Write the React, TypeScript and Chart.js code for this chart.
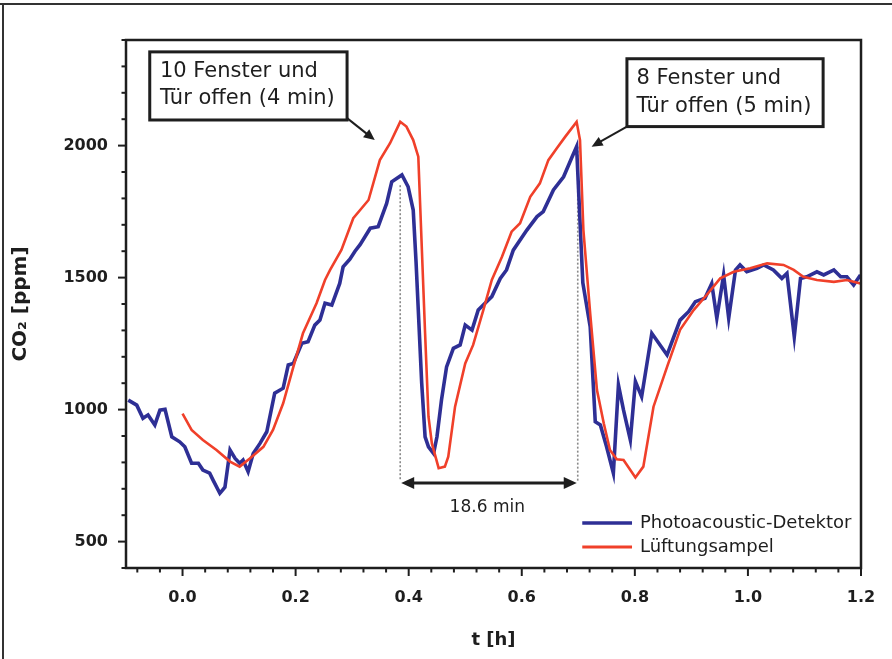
import React, { useEffect, useRef } from 'react';
import { Chart, registerables } from 'chart.js';

Chart.register(...registerables);

// ---- data ----
const seriesNames = ['Photoacoustic-Detektor', 'Lüftungsampel'];

const detektorT = [
  -0.096, -0.081, -0.070, -0.061, -0.049, -0.040, -0.031, -0.019, -0.005, 0.004,
  0.016, 0.028, 0.036, 0.048, 0.054, 0.066, 0.075, 0.084, 0.093, 0.101,
  0.107, 0.116, 0.125, 0.137, 0.149, 0.163, 0.178, 0.187, 0.196, 0.211,
  0.222, 0.234, 0.243, 0.252, 0.264, 0.278, 0.284, 0.296, 0.305, 0.314,
  0.332, 0.346, 0.361, 0.370, 0.388, 0.399, 0.408, 0.413, 0.418, 0.423,
  0.429, 0.435, 0.444, 0.450, 0.458, 0.467, 0.479, 0.491, 0.500, 0.512,
  0.523, 0.535, 0.547, 0.562, 0.573, 0.585, 0.609, 0.627, 0.638, 0.656,
  0.674, 0.688, 0.697, 0.702, 0.708, 0.721, 0.730, 0.739, 0.750, 0.762,
  0.771, 0.780, 0.792, 0.801, 0.812, 0.830, 0.857, 0.880, 0.895, 0.907,
  0.924, 0.936, 0.945, 0.957, 0.966, 0.978, 0.986, 0.998, 1.016, 1.028,
  1.045, 1.060, 1.069, 1.082, 1.093, 1.104, 1.122, 1.134, 1.152, 1.164,
  1.175, 1.187, 1.199,
];
const detektorPpm = [
  1036, 1017, 967, 980, 942, 998, 1001, 897, 878, 859,
  797, 797, 771, 759, 733, 683, 706, 847, 815, 797,
  809, 765, 834, 872, 916, 1062, 1081, 1169, 1175, 1251,
  1257, 1320, 1339, 1403, 1396, 1478, 1541, 1570, 1600, 1625,
  1687, 1693, 1781, 1863, 1889, 1844, 1756, 1560, 1330, 1100,
  897, 859, 834, 897, 1036, 1162, 1232, 1245, 1320, 1301,
  1377, 1403, 1428, 1497, 1529, 1604, 1680, 1731, 1750, 1832,
  1882, 1952, 1996, 1760, 1480, 1314, 954, 942, 859, 759,
  1093, 998, 885, 1106, 1049, 1289, 1207, 1339, 1371, 1409,
  1422, 1478, 1346, 1510, 1346, 1529, 1548, 1522, 1535, 1548,
  1529, 1497, 1516, 1276, 1497, 1503, 1522, 1510, 1529, 1503,
  1503, 1472, 1510,
];

const ampelT = [
  0.000, 0.016, 0.036, 0.060, 0.084, 0.101, 0.119, 0.143, 0.160, 0.178,
  0.196, 0.213, 0.237, 0.252, 0.261, 0.281, 0.302, 0.329, 0.349, 0.367,
  0.385, 0.396, 0.408, 0.417, 0.429, 0.435, 0.441, 0.453, 0.464, 0.470,
  0.482, 0.500, 0.514, 0.532, 0.547, 0.565, 0.582, 0.597, 0.615, 0.632,
  0.647, 0.662, 0.677, 0.697, 0.703, 0.709, 0.721, 0.733, 0.745, 0.756,
  0.768, 0.780, 0.801, 0.815, 0.833, 0.857, 0.880, 0.904, 0.927, 0.951,
  0.975, 1.004, 1.034, 1.063, 1.081, 1.098, 1.122, 1.152, 1.175, 1.199,
];
const ampelPpm = [
  985, 923, 885, 847, 803, 784, 815, 859, 923, 1024,
  1162, 1289, 1403, 1491, 1529, 1605, 1725, 1794, 1945, 2009,
  2090, 2072, 2021, 1958, 1289, 973, 872, 778, 784, 822,
  1011, 1175, 1245, 1377, 1491, 1579, 1674, 1706, 1806, 1857,
  1945, 1990, 2034, 2090, 2021, 1680, 1365, 1074, 948, 847,
  812, 809, 743, 784, 1011, 1162, 1302, 1377, 1434, 1497,
  1522, 1535, 1554, 1548, 1529, 1503, 1491, 1484, 1491, 1478,
];

const xTickValues = [0, 0.2, 0.4, 0.6, 0.8, 1.0, 1.2];
const yTickValues = [500, 1000, 1500, 2000];
const calloutLeft = ['10 Fenster und', 'Tür offen (4 min)'];
const calloutRight = ['8 Fenster und', 'Tür offen (5 min)'];
const spanLabel = '18.6 min';
const xTitle = 't [h]';
const yTitle = 'CO₂ [ppm]';

const BLUE = '#2e2f95';
const RED = '#f0402a';
const INK = '#1e1e1e';
const FONT = '"DejaVu Sans", sans-serif';

function arrowHead(ctx: CanvasRenderingContext2D, x1: number, y1: number, x2: number, y2: number, len: number, half: number) {
  const a = Math.atan2(y2 - y1, x2 - x1);
  ctx.beginPath();
  ctx.moveTo(x2, y2);
  ctx.lineTo(x2 - len * Math.cos(a) + half * Math.sin(a), y2 - len * Math.sin(a) - half * Math.cos(a));
  ctx.lineTo(x2 - len * Math.cos(a) - half * Math.sin(a), y2 - len * Math.sin(a) + half * Math.cos(a));
  ctx.closePath();
  ctx.fill();
}

const decorPlugin = {
  id: 'decor',
  beforeDatasetsDraw(chart: any) {
    const { ctx } = chart;
    const xs = chart.scales.x, ys = chart.scales.y;
    ctx.save();
    ctx.strokeStyle = '#8a8a8a';
    ctx.lineWidth = 1.6;
    ctx.setLineDash([2, 2]);
    const lines = [[0.385, 1850], [0.699, 1996]];
    for (const [t, top] of lines) {
      const x = xs.getPixelForValue(t);
      ctx.beginPath();
      ctx.moveTo(x, ys.getPixelForValue(top));
      ctx.lineTo(x, ys.getPixelForValue(730));
      ctx.stroke();
    }
    ctx.restore();
  },
  afterDatasetsDraw(chart: any) {
    const { ctx, chartArea: ca } = chart;
    const xs = chart.scales.x, ys = chart.scales.y;
    const px = (t: number) => xs.getPixelForValue(t);
    const py = (v: number) => ys.getPixelForValue(v);
    ctx.save();

    // frame
    ctx.strokeStyle = INK;
    ctx.lineWidth = 2.5;
    ctx.strokeRect(ca.left, ca.top, ca.right - ca.left, ca.bottom - ca.top);

    // y ticks (outward)
    ctx.lineWidth = 2;
    for (let v = 400; v <= 2400; v += 100) {
      const y = py(v);
      const len = v % 500 === 0 ? 8 : 4.5;
      ctx.beginPath();
      ctx.moveTo(ca.left, y);
      ctx.lineTo(ca.left - len, y);
      ctx.stroke();
    }
    // x ticks (outward)
    for (let i = 0; i <= 32; i++) {
      const t = -0.08 + i * 0.04;
      if (t > 1.2001) break;
      const x = px(t);
      const major = Math.abs(Math.round(t / 0.2) * 0.2 - t) < 1e-6;
      ctx.beginPath();
      ctx.moveTo(x, ca.bottom);
      ctx.lineTo(x, ca.bottom + (major ? 8 : 4.5));
      ctx.stroke();
    }

    // double arrow 18.6 min
    ctx.fillStyle = INK;
    ctx.strokeStyle = INK;
    ctx.lineWidth = 3;
    const ay = py(722);
    const ax1 = px(0.385) + 1, ax2 = px(0.699) - 1;
    ctx.beginPath();
    ctx.moveTo(ax1 + 8, ay);
    ctx.lineTo(ax2 - 8, ay);
    ctx.stroke();
    arrowHead(ctx, ax2 - 20, ay, ax2, ay, 13, 6);
    arrowHead(ctx, ax1 + 20, ay, ax1, ay, 13, 6);
    ctx.font = `17px ${FONT}`;
    ctx.textAlign = 'center';
    ctx.textBaseline = 'middle';
    ctx.fillText(spanLabel, px(0.539), py(630));

    // callout boxes
    const drawBox = (t0: number, t1: number, v0: number, v1: number, lines: string[], tx: number, vys: number[]) => {
      const x0 = px(t0), x1 = px(t1), y0 = py(v0), y1 = py(v1);
      ctx.fillStyle = '#ffffff';
      ctx.fillRect(x0, y0, x1 - x0, y1 - y0);
      ctx.lineWidth = 3;
      ctx.strokeStyle = INK;
      ctx.strokeRect(x0, y0, x1 - x0, y1 - y0);
      ctx.fillStyle = INK;
      ctx.font = `21px ${FONT}`;
      ctx.textAlign = 'left';
      ctx.textBaseline = 'middle';
      lines.forEach((s, i) => ctx.fillText(s, px(tx), py(vys[i])));
    };
    drawBox(-0.058, 0.291, 2355, 2097, calloutLeft, -0.040, [2280, 2177]);
    drawBox(0.786, 1.133, 2329, 2072, calloutRight, 0.803, [2255, 2147]);

    // callout arrows
    ctx.lineWidth = 2;
    const arrows = [[0.291, 2104, 0.340, 2021], [0.786, 2072, 0.7235, 1996]];
    for (const [t0, v0, t1, v1] of arrows) {
      const x0 = px(t0), y0 = py(v0), x1 = px(t1), y1 = py(v1);
      const a = Math.atan2(y1 - y0, x1 - x0);
      ctx.beginPath();
      ctx.moveTo(x0, y0);
      ctx.lineTo(x1 - 8 * Math.cos(a), y1 - 8 * Math.sin(a));
      ctx.stroke();
      arrowHead(ctx, x0, y0, x1, y1, 11, 5);
    }

    // legend
    const rows = [
      { name: seriesNames[0], color: BLUE, w: 3.5, v: 570 },
      { name: seriesNames[1], color: RED, w: 3, v: 480 },
    ];
    ctx.font = `18px ${FONT}`;
    ctx.textAlign = 'left';
    ctx.textBaseline = 'middle';
    for (const r of rows) {
      const y = py(r.v);
      ctx.strokeStyle = r.color;
      ctx.lineWidth = r.w;
      ctx.beginPath();
      ctx.moveTo(px(0.707), y);
      ctx.lineTo(px(0.795), y);
      ctx.stroke();
      ctx.fillStyle = INK;
      ctx.fillText(r.name, px(0.809), y);
    }
    ctx.restore();
  },
};

export default function App() {
  const ref = useRef<HTMLCanvasElement | null>(null);
  useEffect(() => {
    if (!ref.current) return;
    const chart = new Chart(ref.current, {
      type: 'line',
      data: {
        datasets: [
          {
            label: seriesNames[0],
            data: detektorT.map((t, i) => ({ x: t, y: detektorPpm[i] })),
            borderColor: BLUE,
            borderWidth: 3.6,
            pointRadius: 0,
            tension: 0,
            fill: false,
            order: 1,
          },
          {
            label: seriesNames[1],
            data: ampelT.map((t, i) => ({ x: t, y: ampelPpm[i] })),
            borderColor: RED,
            borderWidth: 2.6,
            pointRadius: 0,
            tension: 0,
            fill: false,
            order: 0,
          },
        ],
      },
      options: {
        responsive: false,
        animation: false,
        events: [],
        layout: { padding: { left: 0, top: 40, right: 31, bottom: 0 } },
        plugins: { legend: { display: false }, tooltip: { enabled: false } },
        scales: {
          x: {
            type: 'linear',
            min: -0.1,
            max: 1.2,
            grid: { display: false, drawTicks: false },
            border: { display: false },
            afterBuildTicks: (s: any) => { s.ticks = xTickValues.map((v) => ({ value: v })); },
            afterFit: (s: any) => { s.height = 91; s.paddingLeft = 0; s.paddingRight = 0; },
            ticks: {
              padding: 20,
              color: INK,
              font: { family: FONT, size: 16, weight: 'bold' },
              callback: (v: any) => Number(v).toFixed(1),
            },
            title: {
              display: true,
              text: xTitle,
              color: INK,
              font: { family: FONT, size: 18, weight: 'bold' },
              padding: { top: 0, bottom: 8 },
            },
          },
          y: {
            type: 'linear',
            min: 400,
            max: 2400,
            grid: { display: false, drawTicks: false },
            border: { display: false },
            afterBuildTicks: (s: any) => { s.ticks = yTickValues.map((v) => ({ value: v })); },
            afterFit: (s: any) => { s.width = 126; s.paddingTop = 0; s.paddingBottom = 0; },
            ticks: {
              padding: 18,
              color: INK,
              font: { family: FONT, size: 16, weight: 'bold' },
              callback: (v: any) => String(v),
            },
            title: {
              display: true,
              text: yTitle,
              color: INK,
              font: { family: FONT, size: 20, weight: 'bold' },
              padding: { top: 9, bottom: 0 },
            },
          },
        },
      },
      plugins: [decorPlugin],
    });
    return () => chart.destroy();
  }, []);

  return (
    <div style={{ position: 'fixed', left: 0, top: 0, width: 892, height: 659, background: '#fff', overflow: 'hidden' }}>
      <div style={{ position: 'absolute', left: 0, top: 3, width: 892, height: 2, background: '#333' }} />
      <div style={{ position: 'absolute', left: 2, top: 3, width: 2, height: 656, background: '#333' }} />
      <canvas ref={ref} width={892} height={659} style={{ position: 'absolute', left: 0, top: 0 }} />
    </div>
  );
}
